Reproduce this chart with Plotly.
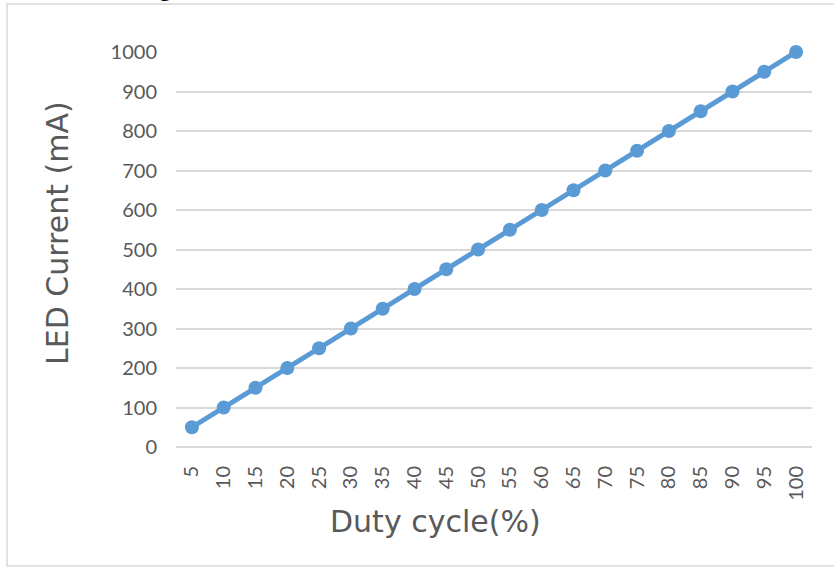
import plotly.graph_objects as go

duty_cycle = ["5", "10", "15", "20", "25", "30", "35", "40", "45", "50",
              "55", "60", "65", "70", "75", "80", "85", "90", "95", "100"]
led_current = [50, 100, 150, 200, 250, 300, 350, 400, 450, 500,
               550, 600, 650, 700, 750, 800, 850, 900, 950, 1000]
y_ticks = [0, 100, 200, 300, 400, 500, 600, 700, 800, 900, 1000]

W, H = 834, 568
L, T = 176, 52
R = W - 812
B = H - 447
pw, ph = W - L - R, H - T - B

def px(x):
    return (x - L) / pw

def py(y):
    return (H - B - y) / ph

grey = "#595959"
grid = "#D9D9D9"

fig = go.Figure()
fig.add_trace(go.Scatter(
    x=duty_cycle, y=led_current, mode="lines+markers",
    line=dict(color="#5B9BD5", width=5),
    marker=dict(color="#5B9BD5", size=14),
    cliponaxis=False, showlegend=False,
))

fig.update_layout(
    width=W, height=H,
    margin=dict(l=L, r=R, t=T, b=B, autoexpand=False),
    paper_bgcolor="white", plot_bgcolor="white",
    xaxis=dict(
        type="category", range=[-0.5, len(duty_cycle) - 0.5],
        showgrid=False, zeroline=False, showline=False,
        automargin=False,
        tickangle=-90, tickfont=dict(family="Lato", size=20, color=grey),
        ticks="", ticklabelstandoff=14,
    ),
    yaxis=dict(
        range=[0, 1000], tickvals=y_ticks, automargin=False,
        showgrid=True, gridcolor=grid, gridwidth=1.5,
        zeroline=True, zerolinecolor=grid, zerolinewidth=1.5,
        showline=False, ticks="",
        tickfont=dict(family="Lato", size=20, color=grey),
        ticklabelstandoff=18,
    ),
    shapes=[dict(
        type="rect", xref="paper", yref="paper",
        x0=px(7), x1=px(860), y0=py(566), y1=py(4),
        line=dict(color=grid, width=1.5), fillcolor="rgba(0,0,0,0)",
        layer="below",
    )],
    annotations=[
        dict(text="Duty cycle(%)", xref="paper", yref="paper",
             x=px(435), y=py(521), showarrow=False,
             xanchor="center", yanchor="middle",
             font=dict(family="DejaVu Sans", size=30, color=grey)),
        dict(text="LED Current (mA)", xref="paper", yref="paper",
             x=px(57), y=py(233), showarrow=False, textangle=-90,
             xanchor="center", yanchor="middle",
             font=dict(family="DejaVu Sans", size=30, color=grey)),
        dict(text="<b>Dimming</b>", xref="paper", yref="paper",
             x=px(176), y=py(3), showarrow=False,
             xanchor="right", yanchor="bottom",
             font=dict(family="Liberation Sans", size=28, color="black")),
    ],
)

fig.write_html(
    "out.html",
    config={"displayModeBar": False},
    post_script="document.body.style.margin='0';document.body.style.overflow='hidden';",
)
